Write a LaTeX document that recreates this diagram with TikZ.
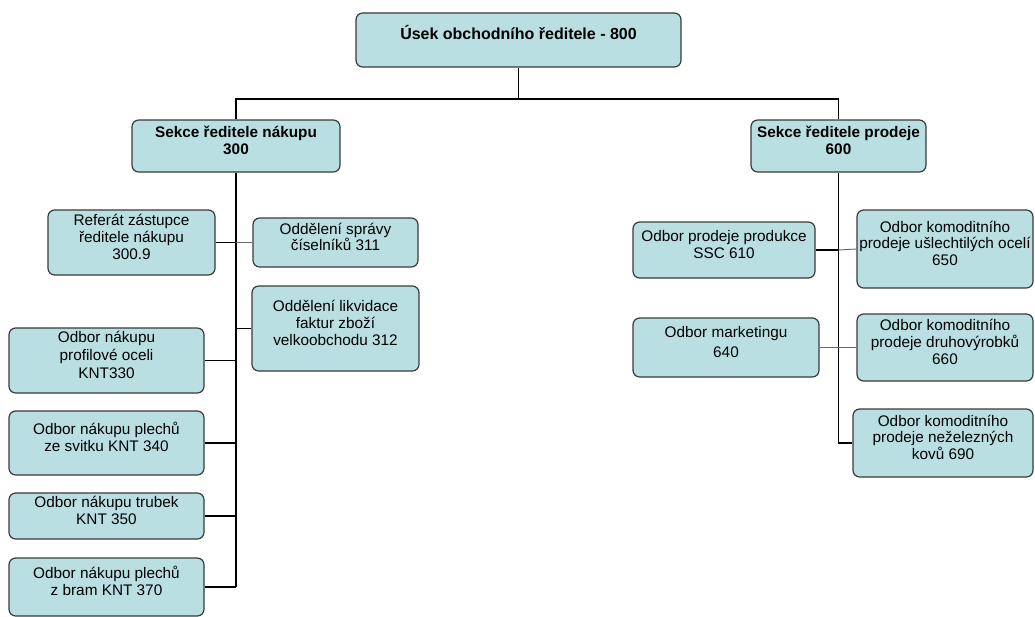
\documentclass[tikz,border=0pt]{standalone}
\usepackage{fontspec}
\setmainfont{Liberation Sans}
\usetikzlibrary{fit}
\definecolor{boxfill}{HTML}{B9DFE2}
\definecolor{boxline}{HTML}{3A3A3A}
\definecolor{thinline}{HTML}{6A6A6A}
\begin{document}
\begin{tikzpicture}[x=0.75pt,y=-0.75pt,
  box/.style={draw=boxline,line width=0.9pt,fill=boxfill,rounded corners=5pt,
    inner sep=0pt,align=center,font=\fontsize{11.5}{12.5}\selectfont},
  boldbox/.style={box,font=\fontsize{11.5}{12.5}\selectfont\bfseries},
  mainline/.style={draw=black,line width=1.4pt},
  thin/.style={draw=thinline,line width=0.7pt}]
\useasboundingbox (0,0) rectangle (1035,617);

% head of the division
\node[boldbox,fit={(356,13) (681,67)},font=\fontsize{12}{13}\selectfont\bfseries] (top) {Úsek obchodního ředitele - 800};

% sections
\node[boldbox,fit={(132,120) (340,172)}] (nakup) {Sekce ředitele nákupu\\300};
\node[boldbox,fit={(751,120) (926,172)}] (prodej) {Sekce ředitele prodeje\\600};

% purchasing units
\node[box,fit={(48,210) (215,275)}] (ref) {Referát zástupce\\ředitele nákupu\\300.9};
\node[box,fit={(253,218) (418,267)}] (o311) {Oddělení správy\\číselníků 311};
\node[box,fit={(252,286) (419,371)}] (o312) {Oddělení likvidace\\faktur zboží\\velkoobchodu 312};
\node[box,fit={(9,328) (204,393)},font=\fontsize{11.5}{13.8}\selectfont] (k330) {Odbor nákupu\\profilové oceli\\KNT330};
\node[box,fit={(9,411) (204,475)}] (k340) {Odbor nákupu plechů\\ze svitku KNT 340};
\node[box,fit={(9,493) (204,539)}] (k350) {Odbor nákupu trubek\\KNT 350};
\node[box,fit={(9,558) (204,616)}] (k370) {Odbor nákupu plechů\\z bram KNT 370};

% sales units
\node[box,fit={(633,222) (815,278)}] (s610) {Odbor prodeje produkce\\SSC 610};
\node[box,fit={(857,210) (1033,288)}] (s650) {Odbor komoditního\\prodeje ušlechtilých ocelí\\650};
\node[box,fit={(633,318) (819,377)}] (s640) {Odbor marketingu\\[3pt]640};
\node[box,fit={(857,314) (1033,381)}] (s660) {Odbor komoditního\\prodeje druhovýrobků\\660};
\node[box,fit={(853,409) (1033,477)}] (s690) {Odbor komoditního\\prodeje neželezných\\kovů 690};

% bus and trunk ends
\coordinate (bus) at (518,99);
\coordinate (trunkL) at (236,587);
\coordinate (trunkR) at (838.5,443);

% top level connectors
\draw[mainline] (top.south) -- (top.south |- bus);
\draw[mainline] (nakup.north) -- (nakup.north |- bus) -- (prodej.north |- bus) -- (prodej.north);

% purchasing trunk
\draw[mainline] (nakup.south) -- (trunkL);
\draw[mainline] (ref.east) -- (ref.east -| trunkL);
\draw[thin] (ref.east -| trunkL) -- (o311.west);
\draw[mainline] (o312.west) -- (o312.west -| trunkL);
\draw[mainline] (k330.east) -- (k330.east -| trunkL);
\draw[mainline] (k340.east) -- (k340.east -| trunkL);
\draw[mainline] (k350.east) -- (k350.east -| trunkL);
\draw[mainline] (k370.east) -- (trunkL);

% sales trunk
\draw[mainline] (prodej.south) -- (trunkR) -- (s690.west);
\draw[mainline] (s610.east) -- (s610.east -| trunkR);
\draw[thin] (s610.east -| trunkR) -- (s650.west);
\draw[thin] (s640.east) -- (s660.west);
\end{tikzpicture}
\end{document}
